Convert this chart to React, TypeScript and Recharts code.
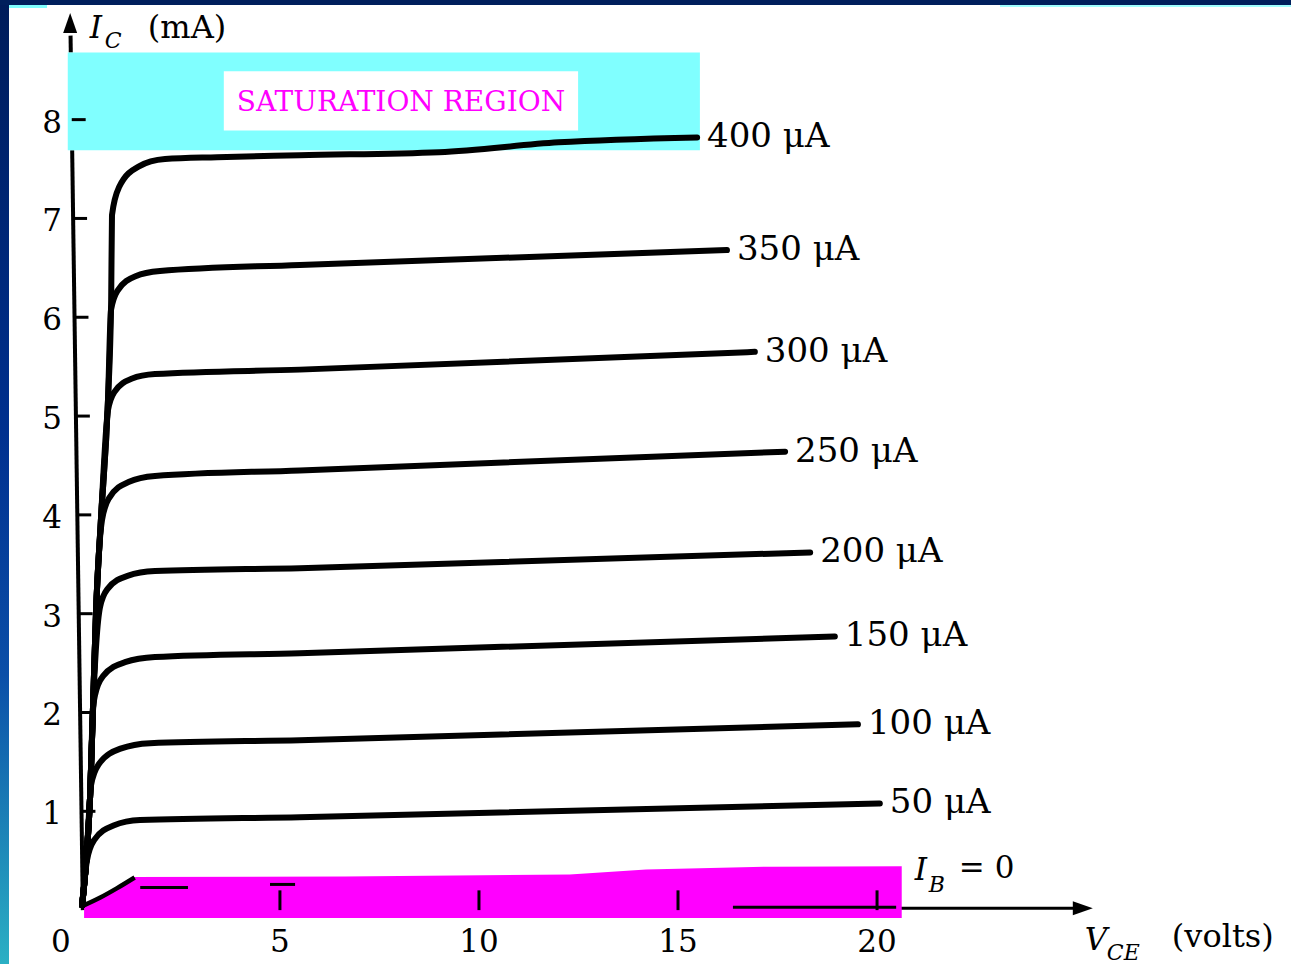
import React from 'react';
import {
  ComposedChart,
  Line,
  Area,
  XAxis,
  YAxis,
  ReferenceLine,
  ReferenceArea,
  ReferenceDot,
} from 'recharts';

const SERIF = '"DejaVu Serif", "Liberation Serif", serif';

// ---- axes (V_CE in volts, I_C in mA) ----
const xTicks = [0, 5, 10, 15, 20];
const yTicks = [1, 2, 3, 4, 5, 6, 7, 8];
const xDomain = [-0.5, 25.4];
const yDomain = [-0.1, 9.15];

// ---- collector characteristic curves: [V_CE, I_C] ----
const ib0 = [[0.03, 0.04], [0.5, 0.13], [0.9, 0.22], [1.35, 0.33]];
const ib50 = [[0.03, 0.05], [0.153, 0.506], [0.332, 0.709], [0.819, 0.856], [1.485, 0.911], [5.5, 0.94], [20.07, 1.08]];
const ib100 = [[0.03, 0.05], [0.13, 0.48], [0.23, 1.14], [0.254, 1.265], [0.452, 1.478], [0.995, 1.634], [1.736, 1.69], [5.5, 1.72], [19.52, 1.88]];
const ib150 = [[0.03, 0.05], [0.13, 0.48], [0.23, 1.14], [0.3, 2.0], [0.354, 2.176], [0.555, 2.368], [1.108, 2.509], [1.861, 2.561], [5.5, 2.6], [18.94, 2.77]];
const ib200 = [[0.03, 0.05], [0.13, 0.48], [0.23, 1.14], [0.3, 2.0], [0.48, 3.067], [0.666, 3.249], [1.171, 3.383], [1.861, 3.431], [5.5, 3.46], [18.32, 3.62]];
const ib250 = [[0.03, 0.05], [0.13, 0.48], [0.23, 1.14], [0.3, 2.0], [0.38, 3.02], [0.53, 3.947], [0.708, 4.17], [1.196, 4.333], [1.861, 4.393], [5.5, 4.45], [17.69, 4.64]];
const ib300 = [[0.03, 0.05], [0.13, 0.48], [0.23, 1.14], [0.3, 2.0], [0.38, 3.02], [0.5, 3.93], [0.681, 5.061], [0.839, 5.243], [1.271, 5.377], [1.861, 5.425], [5.5, 5.47], [16.93, 5.65]];
const ib350 = [[0.03, 0.05], [0.13, 0.48], [0.23, 1.14], [0.3, 2.0], [0.38, 3.02], [0.5, 3.93], [0.68, 5.16], [0.756, 6.073], [0.922, 6.27], [1.372, 6.415], [1.987, 6.467], [5.5, 6.53], [16.23, 6.68]];
const ib400 = [[0.03, 0.05], [0.13, 0.48], [0.23, 1.14], [0.3, 2.0], [0.38, 3.02], [0.5, 3.93], [0.68, 5.16], [0.76, 6.17], [0.781, 7.034], [0.96, 7.318], [1.447, 7.525], [2.113, 7.601], [3.42, 7.62], [5.5, 7.64], [9.0, 7.67], [12.0, 7.77], [15.48, 7.82]];

const curveNames = ['50 μA', '100 μA', '150 μA', '200 μA', '250 μA', '300 μA', '350 μA', '400 μA'];
const curveValues = [ib50, ib100, ib150, ib200, ib250, ib300, ib350, ib400];

// ---- highlighted regions ----
const cutoffTop = [[0.08, 0.03], [0.5, 0.13], [0.9, 0.22], [1.31, 0.334], [6.63, 0.34], [12.28, 0.36], [14.2, 0.41], [17.35, 0.44], [20.62, 0.445]];
const cutoffBase = -0.08;
const saturationBox = { v1: -0.33, v2: 15.55, i1: 7.69, i2: 8.68 };
const saturationLabelBox = { v1: 3.59, v2: 12.49, i1: 7.89, i2: 8.49 };

// ---- axis lines (y axis slightly tilted as scanned) ----
const yAxisBottom = [0.05, 0];
const yAxisTop = [-0.26, 8.85];
const yAxisVisibleSpans = [[0, 7.69], [8.68, 8.85]];
const yAxisTip = [-0.27, 9.08];
const xAxisLine = [[0, 0.02], [25.0, 0.02]];
const xAxisTip = [25.42, 0.02];
const tickLen = 0.35;
const xTickHeight = 0.2;
// leftover marks printed over the cut-off band: [v1, v2, i]
const cutoffMarks = [[16.38, 20.48, 0.03], [1.49, 2.69, 0.23], [4.75, 5.38, 0.26]];

const toPts = (arr: number[][]) => arr.map(([v, i]) => ({ v, i }));
const yAxisXAt = (i: number) =>
  yAxisBottom[0] + ((yAxisTop[0] - yAxisBottom[0]) * (i - yAxisBottom[1])) / (yAxisTop[1] - yAxisBottom[1]);

const txt = { fontFamily: SERIF, fill: '#000' } as const;

const XTick = (props: any) => {
  const { x, y, payload } = props;
  const dx = payload.value === 0 ? -20 : 0;
  return (
    <text x={x + dx} y={y + 21} textAnchor="middle" dominantBaseline="central" fontSize={31} {...txt}>
      {payload.value}
    </text>
  );
};

const YTick = (props: any) => {
  const { x, y, payload } = props;
  return (
    <text x={x + 1} y={y + 2} textAnchor="end" dominantBaseline="central" fontSize={31} {...txt}>
      {payload.value}
    </text>
  );
};

export default function App() {
  const curves = curveValues.map((vals, k) => ({ name: curveNames[k], data: toPts(vals) }));
  return (
    <div style={{ position: 'absolute', left: 0, top: 0, width: 1291, height: 964, background: '#ffffff', overflow: 'hidden' }}>
      <div style={{ position: 'absolute', left: 0, top: 0 }}>
        <ComposedChart width={1291} height={964} margin={{ top: 6, right: 199, bottom: 0, left: 0 }}>
          <XAxis
            dataKey="v"
            type="number"
            domain={xDomain}
            ticks={xTicks}
            interval={0}
            allowDataOverflow
            axisLine={false}
            tickLine={false}
            tickSize={0}
            tickMargin={0}
            height={44}
            tick={<XTick />}
          />
          <YAxis
            type="number"
            domain={yDomain}
            ticks={yTicks}
            interval={0}
            allowDataOverflow
            axisLine={false}
            tickLine={false}
            tickSize={0}
            tickMargin={0}
            width={61}
            tick={<YTick />}
          />

          {/* axis lines */}
          {yAxisVisibleSpans.map(([a, b], k) => (
            <ReferenceLine
              key={'ya' + k}
              segment={[{ x: yAxisXAt(a), y: a }, { x: yAxisXAt(b), y: b }]}
              stroke="#000"
              strokeWidth={4}
              ifOverflow="visible"
              zIndex={50}
            />
          ))}
          <ReferenceLine
            segment={toPts(xAxisLine).map((p) => ({ x: p.v, y: p.i }))}
            stroke="#000"
            strokeWidth={3}
            ifOverflow="visible"
            zIndex={50}
          />

          {/* cut-off region */}
          <Area
            data={toPts(cutoffTop)}
            dataKey="i"
            type="linear"
            baseValue={cutoffBase}
            fill="#ff00ff"
            fillOpacity={1}
            stroke="none"
            isAnimationActive={false}
            zIndex={100}
          />
          {xTicks.filter((t) => t > 0).map((t) => (
            <ReferenceLine
              key={'xt' + t}
              segment={[{ x: t, y: 0 }, { x: t, y: xTickHeight }]}
              stroke="#000"
              strokeWidth={3}
              ifOverflow="visible"
              zIndex={150}
            />
          ))}
          {cutoffMarks.map(([v1, v2, i], k) => (
            <ReferenceLine
              key={'cm' + k}
              segment={[{ x: v1, y: i }, { x: v2, y: i }]}
              stroke="#000"
              strokeWidth={3}
              ifOverflow="visible"
              zIndex={150}
            />
          ))}

          {/* saturation region */}
          <ReferenceArea
            x1={saturationBox.v1}
            x2={saturationBox.v2}
            y1={saturationBox.i1}
            y2={saturationBox.i2}
            fill="#80ffff"
            fillOpacity={1}
            stroke="none"
            ifOverflow="visible"
            zIndex={200}
          />
          <ReferenceArea
            x1={saturationLabelBox.v1}
            x2={saturationLabelBox.v2}
            y1={saturationLabelBox.i1}
            y2={saturationLabelBox.i2}
            fill="#ffffff"
            fillOpacity={1}
            stroke="none"
            ifOverflow="visible"
            zIndex={210}
            label={{
              value: 'SATURATION REGION',
              position: 'center',
              fill: '#ff00ff',
              fontSize: 28,
              fontFamily: SERIF,
            }}
          />

          {/* y tick marks (inside the axis) */}
          {yTicks.map((t) => (
            <ReferenceLine
              key={'yt' + t}
              segment={[{ x: yAxisXAt(t), y: t }, { x: yAxisXAt(t) + tickLen, y: t }]}
              stroke="#000"
              strokeWidth={3}
              ifOverflow="visible"
              zIndex={250}
            />
          ))}

          {/* characteristic curves */}
          <Line
            data={toPts(ib0)}
            dataKey="i"
            type="monotone"
            stroke="#000"
            strokeWidth={4.5}
            dot={false}
            activeDot={false}
            isAnimationActive={false}
            zIndex={400}
          />
          {curves.map((c) => (
            <Line
              key={c.name}
              name={c.name}
              data={c.data}
              dataKey="i"
              type="monotone"
              stroke="#000"
              strokeWidth={6}
              strokeLinecap="round"
              strokeLinejoin="round"
              dot={false}
              activeDot={false}
              isAnimationActive={false}
              zIndex={400}
            />
          ))}

          {/* arrow heads */}
          <ReferenceDot
            x={yAxisTip[0]}
            y={yAxisTip[1]}
            r={1}
            ifOverflow="visible"
            zIndex={600}
            shape={(p: any) => (
              <polygon points={`${p.cx},${p.cy} ${p.cx - 7},${p.cy + 20} ${p.cx + 7},${p.cy + 20}`} fill="#000" />
            )}
          />
          <ReferenceDot
            x={xAxisTip[0]}
            y={xAxisTip[1]}
            r={1}
            ifOverflow="visible"
            zIndex={600}
            shape={(p: any) => (
              <polygon points={`${p.cx},${p.cy} ${p.cx - 20},${p.cy - 7} ${p.cx - 20},${p.cy + 7}`} fill="#000" />
            )}
          />

          {/* curve labels at the end of each curve */}
          {curves.map((c) => {
            const last = c.data[c.data.length - 1];
            return (
              <ReferenceDot
                key={'lb' + c.name}
                x={last.v}
                y={last.i}
                r={1}
                ifOverflow="visible"
                zIndex={700}
                shape={(p: any) => (
                  <text x={p.cx + 10} y={p.cy - 2} dominantBaseline="central" fontSize={34} {...txt}>
                    {c.name}
                  </text>
                )}
              />
            );
          })}

          {/* axis titles */}
          <ReferenceDot
            x={0.3}
            y={8.83}
            r={1}
            ifOverflow="visible"
            zIndex={700}
            shape={(p: any) => (
              <g>
                <text x={p.cx - 3} y={p.cy} fontSize={31} fontStyle="italic" {...txt}>I</text>
                <text x={p.cx + 12} y={p.cy + 10} fontSize={22} fontStyle="italic" {...txt}>C</text>
                <text x={p.cx + 55} y={p.cy} fontSize={32} {...txt}>(mA)</text>
              </g>
            )}
          />
          <ReferenceDot
            x={25.22}
            y={-0.4}
            r={1}
            ifOverflow="visible"
            zIndex={700}
            shape={(p: any) => (
              <g>
                <text x={p.cx} y={p.cy} fontSize={31} fontStyle="italic" {...txt}>V</text>
                <text x={p.cx + 22} y={p.cy + 10} fontSize={22} fontStyle="italic" {...txt}>CE</text>
                <text x={p.cx + 87} y={p.cy - 3} fontSize={32} {...txt}>(volts)</text>
              </g>
            )}
          />
          <ReferenceDot
            x={20.95}
            y={0.3}
            r={1}
            ifOverflow="visible"
            zIndex={700}
            shape={(p: any) => (
              <g>
                <text x={p.cx} y={p.cy} fontSize={31} fontStyle="italic" {...txt}>I</text>
                <text x={p.cx + 14} y={p.cy + 12} fontSize={22} fontStyle="italic" {...txt}>B</text>
                <text x={p.cx + 44} y={p.cy - 2} fontSize={31} {...txt}>= 0</text>
              </g>
            )}
          />
        </ComposedChart>
      </div>

      {/* slide frame */}
      <div style={{ position: 'absolute', left: 0, top: 0, width: 9, height: 964, background: 'linear-gradient(to bottom, #001c5a 0%, #00308f 45%, #0b4fa8 70%, #2bb0c4 100%)' }} />
      <div style={{ position: 'absolute', left: 0, top: 0, width: 1291, height: 5, background: '#001f5c' }} />
      <div style={{ position: 'absolute', left: 9, top: 5, width: 38, height: 3, background: '#80ffff' }} />
      <div style={{ position: 'absolute', left: 1000, top: 5, width: 291, height: 2, background: '#a0ffff' }} />
    </div>
  );
}
